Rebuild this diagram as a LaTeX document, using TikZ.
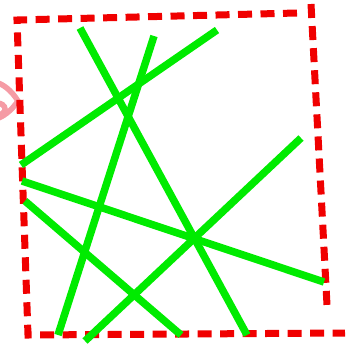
\documentclass[tikz,border=0pt]{standalone}
\begin{document}
\begin{tikzpicture}[x=1pt,y=-1pt,
  frame/.style={draw={rgb,255:red,240;green,0;blue,0},line width=7pt,dash pattern=on 14pt off 8.5pt},
  stick/.style={draw={rgb,255:red,0;green,235;blue,0},line width=7.5pt},
  eye/.style={draw={rgb,255:red,245;green,155;blue,165},line width=5.5pt}]
\useasboundingbox (0,0) rectangle (359,349);
% pink shape at left edge
\draw[eye] (-40,101) .. controls (-18,70) and (5,80) .. (18,101) .. controls (5,120) and (-18,132) .. (-40,101);
\draw[eye] (-3,109) ellipse (8 and 6);
% frame
\coordinate (tl) at (17,20);
\coordinate (tr) at (297,13);
\coordinate (bl) at (28,335);
\coordinate (br) at (345,333);
\coordinate (rt) at (311,4);
\coordinate (rb) at (327,305);
\draw[frame] (tr) -- (tl) -- (bl) -- (br);
\draw[frame,dash pattern=on 14pt off 8.1pt] (rt) -- (rb);
% green sticks
\coordinate (a1) at (80,28);   \coordinate (a2) at (247,335);
\coordinate (b1) at (154,36);  \coordinate (b2) at (58,335);
\coordinate (c1) at (217,30);  \coordinate (c2) at (21,165);
\coordinate (d1) at (301,138); \coordinate (d2) at (85,341);
\coordinate (e1) at (22,181);  \coordinate (e2) at (324,282);
\coordinate (f1) at (25,201);  \coordinate (f2) at (181,335);
\draw[stick] (a1) -- (a2);
\draw[stick] (b1) -- (b2);
\draw[stick] (c1) -- (c2);
\draw[stick] (d1) -- (d2);
\draw[stick] (e1) -- (e2);
\draw[stick] (f1) -- (f2);
\end{tikzpicture}
\end{document}
